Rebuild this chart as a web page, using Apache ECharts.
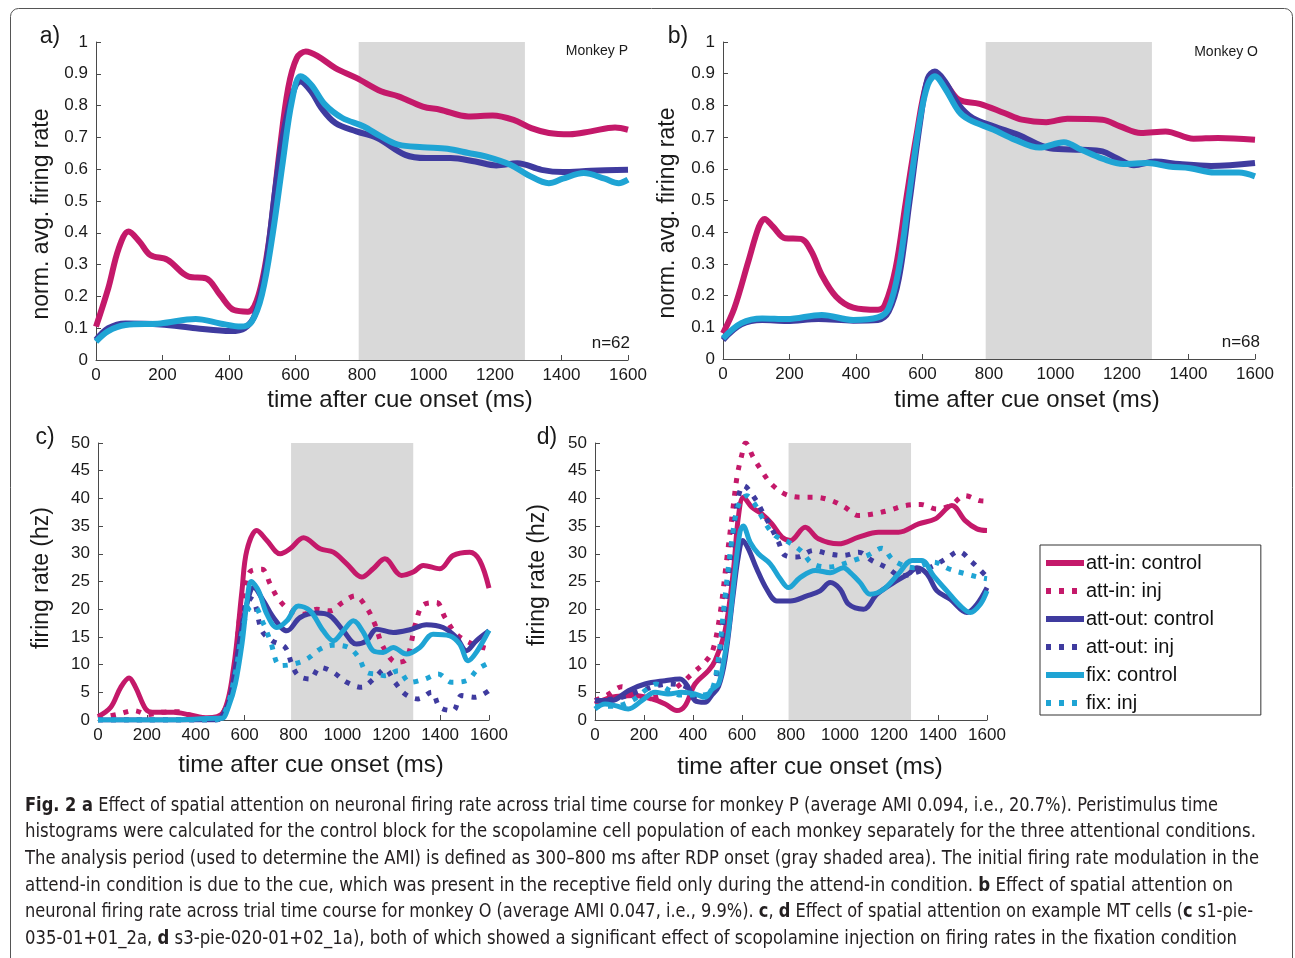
<!DOCTYPE html>
<html>
<head>
<meta charset="utf-8">
<script src="https://cdn.jsdelivr.net/npm/echarts@6/dist/echarts.min.js"></script>
<style>
html,body{margin:0;padding:0;background:#fff;}
#chart{width:1295px;height:958px;}
</style>
</head>
<body>
<div id="chart"></div>
<script>
// ---------- DATA ----------
const seriesNames = ['att-in: control','att-in: inj','att-out: control','att-out: inj','fix: control','fix: inj'];
const xTicks = [0,200,400,600,800,1000,1200,1400,1600];
const shadeRange = [790, 1290];

// Panel a (Monkey P, normalized)
const aAttInCtrl = [[0,0.105],[37,0.226],[68,0.35],[98,0.404],[131,0.372],[163,0.33],[215,0.315],[279,0.262],[331,0.257],[373,0.205],[415,0.157],[457,0.152],[489,0.205],[520,0.372],[552,0.656],[578,0.855],[604,0.95],[631,0.97],[668,0.955],[720,0.918],[783,0.887],[857,0.845],[909,0.829],[983,0.797],[1035,0.787],[1120,0.766],[1193,0.769],[1256,0.755],[1309,0.729],[1362,0.714],[1425,0.71],[1488,0.719],[1561,0.731],[1600,0.724]];
const aAttOutCtrl = [[0,0.063],[37,0.1],[89,0.115],[194,0.112],[300,0.1],[405,0.091],[447,0.1],[478,0.142],[510,0.289],[541,0.551],[573,0.761],[615,0.876],[647,0.845],[678,0.792],[720,0.745],[783,0.719],[846,0.698],[930,0.645],[993,0.635],[1067,0.635],[1141,0.624],[1204,0.612],[1267,0.619],[1340,0.598],[1404,0.591],[1488,0.595],[1600,0.598]];
const aFixCtrl = [[0,0.058],[37,0.091],[89,0.11],[194,0.115],[300,0.129],[373,0.115],[436,0.105],[468,0.12],[499,0.205],[531,0.393],[562,0.624],[589,0.813],[615,0.892],[647,0.866],[689,0.803],[741,0.761],[804,0.735],[857,0.703],[909,0.677],[983,0.669],[1057,0.664],[1120,0.651],[1172,0.64],[1246,0.614],[1299,0.582],[1362,0.556],[1404,0.57],[1467,0.588],[1530,0.57],[1572,0.556],[1600,0.567]];

// Panel b (Monkey O, normalized)
const bAttInCtrl = [[0,0.081],[34,0.16],[76,0.307],[108,0.418],[125,0.442],[150,0.418],[187,0.381],[234,0.379],[266,0.339],[297,0.265],[340,0.197],[392,0.162],[466,0.155],[487,0.171],[519,0.286],[550,0.497],[582,0.707],[614,0.876],[640,0.897],[672,0.865],[709,0.818],[772,0.805],[846,0.776],[899,0.755],[972,0.747],[1036,0.758],[1141,0.755],[1194,0.734],[1257,0.713],[1331,0.718],[1415,0.695],[1489,0.697],[1600,0.692]];
const bAttOutCtrl = [[0,0.06],[55,0.109],[118,0.123],[192,0.12],[287,0.126],[392,0.121],[466,0.123],[498,0.149],[529,0.255],[561,0.497],[593,0.749],[616,0.886],[637,0.907],[667,0.876],[709,0.802],[751,0.76],[814,0.734],[888,0.707],[983,0.665],[1078,0.66],[1141,0.655],[1183,0.634],[1236,0.611],[1299,0.623],[1373,0.615],[1468,0.609],[1600,0.618]];
const bFixCtrl = [[0,0.065],[55,0.113],[118,0.128],[192,0.126],[297,0.139],[392,0.123],[466,0.131],[498,0.16],[529,0.286],[561,0.528],[593,0.76],[616,0.865],[637,0.892],[667,0.855],[709,0.781],[740,0.755],[814,0.723],[877,0.692],[951,0.667],[1025,0.684],[1078,0.66],[1141,0.632],[1204,0.615],[1278,0.618],[1341,0.607],[1405,0.602],[1478,0.588],[1552,0.588],[1600,0.576]];

// Panel c (example cell, Hz)
const cAttInCtrl = [[0,0.6],[52,2.3],[93,5.9],[127,7.6],[154,5.9],[195,2.0],[222,1.4],[310,1.4],[378,0.9],[446,0.4],[513,1.4],[555,9.5],[589,23.3],[609,30.6],[650,34.2],[691,32.4],[746,30.0],[786,30.9],[841,32.9],[909,30.9],[963,30.3],[1018,28.2],[1079,25.8],[1126,27.3],[1174,29.1],[1242,26.1],[1290,26.7],[1331,27.9],[1399,27.3],[1453,29.7],[1521,30.3],[1562,28.8],[1600,23.8]];
const cAttInInj = [[0,0.3],[87,1.1],[147,1.7],[205,1.0],[263,1.4],[324,1.5],[399,0.6],[480,0.2],[530,3],[560,10],[582,19.1],[623,26.8],[671,27.2],[705,24.5],[739,21.8],[786,19.8],[841,19.1],[895,20.0],[950,19.7],[1000,21.2],[1052,22.4],[1100,20.2],[1133,17.3],[1167,13.2],[1222,10.4],[1262,11],[1300,17.5],[1331,20.8],[1385,21.2],[1420,18.5],[1467,15.5],[1535,13.7],[1600,12.8]];
const cAttOutCtrl = [[0,0],[300,0],[487,0],[515,1.2],[541,4.1],[582,14.9],[609,20.9],[637,23.9],[677,21.5],[718,18.5],[773,16.1],[827,18.5],[895,19.3],[950,18.8],[1004,16.1],[1058,13.7],[1099,14.3],[1140,16.4],[1208,15.8],[1276,16.3],[1344,17.2],[1412,16.7],[1467,14.9],[1507,12.5],[1548,14.3],[1600,16.1]];
const cAttOutInj = [[0,0],[480,0],[520,1.5],[560,8],[590,17],[615,22],[638,21.5],[671,16.1],[712,14.3],[766,13.1],[793,10.1],[820,8.0],[868,7.4],[909,9.5],[963,8.6],[1018,6.8],[1079,5.9],[1130,7.5],[1174,9.2],[1215,6.8],[1256,4.7],[1310,3.8],[1365,5.0],[1399,2.3],[1453,1.7],[1487,4.4],[1542,4.1],[1600,5.3]];
const cFixCtrl = [[0,0],[300,0],[487,0.3],[508,0.3],[535,2.5],[562,6.5],[590,14],[610,21.5],[627,25],[657,23.3],[691,19.1],[732,16.7],[773,17.9],[820,20.6],[868,19.7],[922,16.1],[963,14.3],[1004,16.1],[1045,17.9],[1086,15.8],[1126,12.5],[1167,12.2],[1208,13.1],[1262,11.9],[1317,13.1],[1371,15.5],[1440,15.2],[1480,13.7],[1515,10.7],[1548,12.2],[1600,16.2]];
const cFixInj = [[0,0],[480,0],[520,1.5],[560,8],[590,16],[615,20],[637,20.6],[678,17.3],[705,14.3],[746,9.8],[800,10.1],[855,11.0],[909,12.8],[960,13.5],[1025,13.1],[1066,11.3],[1100,8.6],[1140,8.3],[1174,8.0],[1229,8.9],[1276,6.8],[1337,7.4],[1392,8.3],[1447,6.8],[1508,7.1],[1555,9.2],[1600,10.3]];

// Panel d (example cell, Hz)
const dAttInCtrl = [[0,2.9],[68,4.1],[163,4.4],[232,3.8],[286,2.9],[334,1.7],[368,2.6],[408,6.5],[463,8.9],[490,10.7],[531,16.1],[565,27],[585,36.6],[606,40.2],[640,38.4],[681,37.2],[722,35.4],[763,33.0],[797,32.4],[858,34.8],[912,32.7],[994,31.8],[1076,33.0],[1157,33.9],[1239,33.9],[1321,35.4],[1389,36.3],[1457,38.7],[1511,36.0],[1559,34.5],[1600,34.2]];
const dAttInInj = [[0,3.5],[50,4.5],[110,6],[160,4.5],[220,4.0],[290,4.7],[350,6.5],[400,8.5],[450,10.5],[480,12.5],[510,19],[535,28],[560,37],[580,44],[600,48],[615,50],[645,47.5],[680,45],[720,42.6],[775,40.8],[840,40.2],[900,40.2],[965,39.6],[1020,38.4],[1075,36.9],[1135,37.2],[1205,37.9],[1265,38.7],[1330,38.9],[1395,38.1],[1450,38.7],[1510,40.5],[1570,39.6],[1600,39.5]];
const dAttOutCtrl = [[0,3.5],[68,3.5],[136,5.3],[204,6.5],[286,7.1],[347,7.4],[381,5.9],[408,3.5],[449,3.2],[477,4.5],[504,6],[531,11],[565,23],[585,29.5],[603,32.4],[626,30.9],[660,27.3],[701,23.6],[742,21.5],[797,21.5],[865,22.4],[919,23.3],[960,24.8],[1001,23.6],[1035,20.9],[1096,20.0],[1151,22.7],[1219,24.8],[1280,26.4],[1314,27.5],[1355,26.4],[1396,23.3],[1450,21.8],[1518,19.4],[1559,20.9],[1600,23.9]];
const dAttOutInj = [[0,3.5],[100,4],[200,5.5],[300,6.5],[370,6],[420,4],[470,4.5],[500,9],[530,20],[560,32],[585,40.2],[606,42.3],[654,39.9],[688,37.2],[715,35.1],[749,32.1],[776,29.7],[824,29.4],[892,30.6],[953,30.0],[1014,29.7],[1076,30.3],[1130,28.8],[1191,27.5],[1250,26],[1320,26.8],[1380,27.8],[1436,29.2],[1484,30.4],[1539,28.5],[1600,25.8]];
const dFixCtrl = [[0,2.0],[41,2.9],[82,2.6],[136,2.0],[191,3.5],[245,5.0],[300,4.7],[354,5.0],[408,4.7],[449,4.1],[477,5.5],[504,6.5],[525,10.5],[545,16.1],[572,27],[592,34],[605,35],[633,32.1],[667,30.0],[715,28.2],[756,25.5],[790,23.9],[837,25.7],[899,27.0],[960,26.6],[1014,27.5],[1042,26.6],[1082,24.8],[1123,22.7],[1178,23.6],[1239,26.4],[1294,28.8],[1334,28.8],[1382,26.0],[1436,23.3],[1491,20.6],[1532,19.4],[1573,20.9],[1600,23.3]];
const dFixInj = [[0,2.5],[80,2.5],[150,3.5],[210,5.5],[250,6.5],[306,5.3],[350,4.5],[420,4.5],[470,5],[500,10],[530,22],[560,33],[585,38.7],[619,40.5],[647,39.3],[674,37.2],[701,35.1],[735,33.3],[790,32.1],[844,30.4],[885,28.3],[950,27.6],[1000,28],[1055,28.8],[1117,29.8],[1171,31],[1219,28.8],[1300,27.5],[1382,28.5],[1443,27.3],[1511,26.4],[1573,25.7],[1600,25.5]];

const captionLines = [
  [['b','Fig. 2 a'],['n',' Effect of spatial attention on neuronal firing rate across trial time course for monkey P (average AMI 0.094, i.e., 20.7%). Peristimulus time']],
  [['n','histograms were calculated for the control block for the scopolamine cell population of each monkey separately for the three attentional conditions.']],
  [['n','The analysis period (used to determine the AMI) is defined as 300–800 ms after RDP onset (gray shaded area). The initial firing rate modulation in the']],
  [['n','attend-in condition is due to the cue, which was present in the receptive field only during the attend-in condition. '],['b','b'],['n',' Effect of spatial attention on']],
  [['n','neuronal firing rate across trial time course for monkey O (average AMI 0.047, i.e., 9.9%). '],['b','c'],['n',', '],['b','d'],['n',' Effect of spatial attention on example MT cells ('],['b','c'],['n',' s1-pie-']],
  [['n','035-01+01_2a, '],['b','d'],['n',' s3-pie-020-01+02_1a), both of which showed a significant effect of scopolamine injection on firing rates in the fixation condition']]
];

// ---------- STYLE / LAYOUT ----------
const FONT = "'Liberation Sans', Arial, Helvetica, sans-serif";
const CAPFONT = "'Liberation Sans Narrow', 'DejaVu Sans Condensed', 'Liberation Sans', sans-serif";
const C_IN = '#C4196A', C_OUT = '#3F3B9F', C_FIX = '#1FA4D4';
const AXC = '#4a4a4a';

const grids = [
  {left:96, top:42, width:532, height:318},
  {left:723, top:42, width:532, height:317},
  {left:98, top:443, width:391, height:277},
  {left:595, top:443, width:392, height:277}
];

function xAx(i){
  return {type:'value', gridIndex:i, min:0, max:1600, interval:200,
    axisLine:{show:true, onZero:false, lineStyle:{color:AXC, width:1}},
    axisTick:{show:true, inside:true, length:5, lineStyle:{color:AXC}},
    axisLabel:{fontSize:17, color:'#1a1a1a', margin:7, fontFamily:FONT, formatter: v => String(v)},
    splitLine:{show:false}};
}
function yAx(i, max, interval){
  return {type:'value', gridIndex:i, min:0, max:max, interval:interval,
    axisLine:{show:true, lineStyle:{color:AXC, width:1}},
    axisTick:{show:true, inside:true, length:5, lineStyle:{color:AXC}},
    axisLabel:{fontSize:17, color:'#1a1a1a', margin:8, fontFamily:FONT,
      formatter: v => String(+v.toFixed(2))},
    splitLine:{show:false}};
}
function ln(name, data, gi, color, dotted, width){
  return {type:'line', name:name, xAxisIndex:gi, yAxisIndex:gi, data:data,
    smooth:0.35, symbol:'none', showSymbol:false, silent:true,
    lineStyle:{color:color, width:width, type: dotted ? [5,8] : 'solid', cap:'butt', join:'round'},
    itemStyle:{color:color}, z:3};
}
function shade(gi){
  return {type:'line', name:'shade'+gi, xAxisIndex:gi, yAxisIndex:gi, data:[], z:1, silent:true,
    markArea:{silent:true, itemStyle:{color:'#D9D9D9', opacity:1},
      data:[[{xAxis:shadeRange[0]},{xAxis:shadeRange[1]}]]}};
}

const series = [
  shade(0), shade(1), shade(2), shade(3),
  ln(seriesNames[0], aAttInCtrl, 0, C_IN, false, 6),
  ln(seriesNames[2], aAttOutCtrl, 0, C_OUT, false, 6),
  ln(seriesNames[4], aFixCtrl, 0, C_FIX, false, 6),
  ln(seriesNames[0], bAttInCtrl, 1, C_IN, false, 6),
  ln(seriesNames[2], bAttOutCtrl, 1, C_OUT, false, 6),
  ln(seriesNames[4], bFixCtrl, 1, C_FIX, false, 6),
  ln(seriesNames[0], cAttInCtrl, 2, C_IN, false, 5),
  ln(seriesNames[1], cAttInInj, 2, C_IN, true, 5),
  ln(seriesNames[2], cAttOutCtrl, 2, C_OUT, false, 5),
  ln(seriesNames[3], cAttOutInj, 2, C_OUT, true, 5),
  ln(seriesNames[4], cFixCtrl, 2, C_FIX, false, 5),
  ln(seriesNames[5], cFixInj, 2, C_FIX, true, 5),
  ln(seriesNames[0], dAttInCtrl, 3, C_IN, false, 5),
  ln(seriesNames[1], dAttInInj, 3, C_IN, true, 5),
  ln(seriesNames[2], dAttOutCtrl, 3, C_OUT, false, 5),
  ln(seriesNames[3], dAttOutInj, 3, C_OUT, true, 5),
  ln(seriesNames[4], dFixCtrl, 3, C_FIX, false, 5),
  ln(seriesNames[5], dFixInj, 3, C_FIX, true, 5)
];

function txt(text, x, y, size, opts){
  opts = opts || {};
  return {type:'text', x:x, y:y, rotation: opts.rot || 0, silent:true, z:10,
    style:{text:text, fontSize:size, fontFamily:FONT, fill:'#1a1a1a',
      align: opts.align || 'center', verticalAlign: opts.va || 'middle'}};
}

// caption lines with measured horizontal fit
const capTargets = [1193, 1231, 1234, 1208, 1228, 1212];
const capY = [806, 832, 859, 886, 912, 939];
const CAPSIZE = 19;
const mctx = document.createElement('canvas').getContext('2d');
function measureLine(parts){
  let w = 0;
  parts.forEach(p => {
    mctx.font = (p[0]==='b' ? 'bold ' : '') + CAPSIZE + 'px ' + CAPFONT;
    w += mctx.measureText(p[1]).width;
  });
  return w;
}
const capGraphics = captionLines.map((parts, i) => {
  const w = measureLine(parts);
  const sx = capTargets[i] / w;
  const t = parts.map(p => p[0]==='b' ? '{b|' + p[1] + '}' : '{n|' + p[1] + '}').join('');
  return {type:'text', x:25, y:capY[i], scaleX:sx, scaleY:1, silent:true, z:10,
    style:{text:t, align:'left', verticalAlign:'middle',
      rich:{
        n:{fontSize:CAPSIZE, fontFamily:CAPFONT, fill:'#231f20'},
        b:{fontSize:CAPSIZE, fontFamily:CAPFONT, fontWeight:'bold', fill:'#231f20'}
      }}};
});

const graphic = [
  {type:'rect', shape:{x:10.5, y:8.5, width:1282, height:980, r:8}, style:{fill:null, stroke:'#555', lineWidth:1}, silent:true, z:0},
  txt('a)', 50, 37, 23), txt('b)', 678, 37, 23), txt('c)', 45, 438, 23), txt('d)', 547, 438, 23),
  txt('norm. avg. firing rate', 42, 214, 23, {rot:Math.PI/2}),
  txt('norm. avg. firing rate', 668, 213, 23, {rot:Math.PI/2}),
  txt('firing rate (hz)', 42, 578, 23, {rot:Math.PI/2}),
  txt('firing rate (hz)', 538, 575, 23, {rot:Math.PI/2}),
  txt('time after cue onset (ms)', 400, 400, 24),
  txt('time after cue onset (ms)', 1027, 400, 24),
  txt('time after cue onset (ms)', 311, 765, 24),
  txt('time after cue onset (ms)', 810, 767, 24),
  txt('Monkey P', 628, 51, 14, {align:'right'}),
  txt('Monkey O', 1258, 52, 14, {align:'right'}),
  txt('n=62', 630, 343, 17, {align:'right'}),
  txt('n=68', 1260, 342, 17, {align:'right'})
].concat(capGraphics);

const chart = echarts.init(document.getElementById('chart'), null, {renderer:'canvas'});
chart.setOption({
  animation:false,
  backgroundColor:'#fff',
  textStyle:{fontFamily:FONT},
  grid: grids,
  xAxis: [xAx(0), xAx(1), xAx(2), xAx(3)],
  yAxis: [yAx(0,1,0.1), yAx(1,1,0.1), yAx(2,50,5), yAx(3,50,5)],
  legend:{
    data: seriesNames, orient:'vertical', left:1040, top:545,
    itemWidth:38, itemHeight:8, itemGap:8,
    selectedMode:false,
    itemStyle:{opacity:0},
    lineStyle:{width:6},
    textStyle:{fontSize:20, color:'#111', fontFamily:FONT, padding:[0,0,0,-3]},
    borderColor:'#333', borderWidth:1, padding:[8,47,2,3],
    backgroundColor:'#fff'
  },
  series: series,
  graphic: graphic
});
</script>
</body>
</html>
